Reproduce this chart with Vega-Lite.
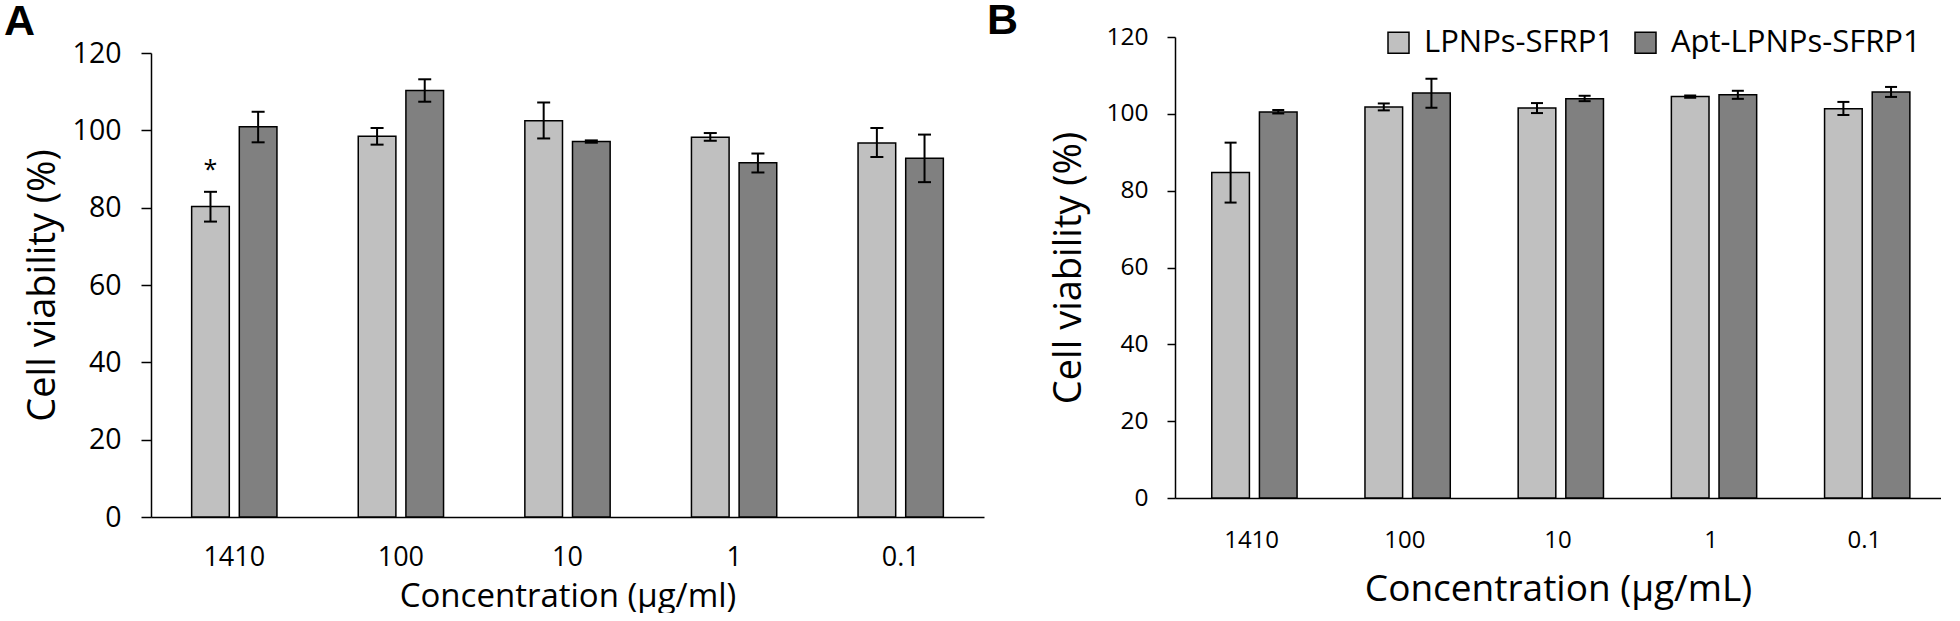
{
  "$schema": "https://vega.github.io/schema/vega-lite/v6.json",
  "padding": {"left": 4, "top": 0, "right": 0, "bottom": 0},
  "background": "white",
  "config": {
    "view": {"stroke": null},
    "font": "Open Sans",
    "axis": {"labelFont": "Open Sans", "titleFont": "Open Sans", "labelColor": "#000", "titleColor": "#000", "domainColor": "#000", "tickColor": "#000", "domainWidth": 1.5, "tickWidth": 1.5, "grid": false, "titleFontWeight": "normal"},
    "title": {"font": "Liberation Sans", "fontWeight": "bold", "fontSize": 43, "anchor": "start", "color": "#000"}
  },
  "datasets": {
    "a": [
      {"conc": "1410", "series": "LPNPs-SFRP1", "value": 80.3, "lo": 76.4, "hi": 84.1, "sig": "*"},
      {"conc": "1410", "series": "Apt-LPNPs-SFRP1", "value": 100.9, "lo": 96.9, "hi": 104.8, "sig": ""},
      {"conc": "100", "series": "LPNPs-SFRP1", "value": 98.5, "lo": 96.3, "hi": 100.6, "sig": ""},
      {"conc": "100", "series": "Apt-LPNPs-SFRP1", "value": 110.3, "lo": 107.4, "hi": 113.2, "sig": ""},
      {"conc": "10", "series": "LPNPs-SFRP1", "value": 102.5, "lo": 97.9, "hi": 107.2, "sig": ""},
      {"conc": "10", "series": "Apt-LPNPs-SFRP1", "value": 97.1, "lo": 96.8, "hi": 97.4, "sig": ""},
      {"conc": "1", "series": "LPNPs-SFRP1", "value": 98.2, "lo": 97.3, "hi": 99.3, "sig": ""},
      {"conc": "1", "series": "Apt-LPNPs-SFRP1", "value": 91.6, "lo": 89.1, "hi": 94.0, "sig": ""},
      {"conc": "0.1", "series": "LPNPs-SFRP1", "value": 96.7, "lo": 93.1, "hi": 100.6, "sig": ""},
      {"conc": "0.1", "series": "Apt-LPNPs-SFRP1", "value": 92.8, "lo": 86.6, "hi": 98.9, "sig": ""}
    ],
    "b": [
      {"conc": "1410", "series": "LPNPs-SFRP1", "value": 84.7, "lo": 76.9, "hi": 92.5},
      {"conc": "1410", "series": "Apt-LPNPs-SFRP1", "value": 100.5, "lo": 100.1, "hi": 101.0},
      {"conc": "100", "series": "LPNPs-SFRP1", "value": 101.8, "lo": 100.9, "hi": 102.7},
      {"conc": "100", "series": "Apt-LPNPs-SFRP1", "value": 105.4, "lo": 101.6, "hi": 109.1},
      {"conc": "10", "series": "LPNPs-SFRP1", "value": 101.5, "lo": 100.2, "hi": 102.8},
      {"conc": "10", "series": "Apt-LPNPs-SFRP1", "value": 103.9, "lo": 103.3, "hi": 104.7},
      {"conc": "1", "series": "LPNPs-SFRP1", "value": 104.5, "lo": 104.2, "hi": 104.8},
      {"conc": "1", "series": "Apt-LPNPs-SFRP1", "value": 105.0, "lo": 103.9, "hi": 106.0},
      {"conc": "0.1", "series": "LPNPs-SFRP1", "value": 101.3, "lo": 99.7, "hi": 103.1},
      {"conc": "0.1", "series": "Apt-LPNPs-SFRP1", "value": 105.7, "lo": 104.4, "hi": 107.0}
    ]
  },
  "spacing": 2,
  "resolve": {"scale": {"fill": "independent"}, "legend": {"fill": "independent"}},
  "hconcat": [
    {
      "title": {"text": "A", "dx": -20, "offset": -7},
      "spacing": 1,
      "vconcat": [
        {"width": 833, "height": 1, "data": {"values": []}, "mark": {"type": "point", "opacity": 0}},
        {
          "width": 833,
          "height": 464,
          "data": {"name": "a"},
          "encoding": {
            "x": {"field": "conc", "type": "nominal", "sort": ["1410", "100", "10", "1", "0.1"],
              "scale": {"paddingInner": 0.488, "paddingOuter": 0.244},
              "axis": {"title": "Concentration (µg/ml)", "labelAngle": 0, "ticks": false, "labelFontSize": 27, "labelPadding": 27, "titleFontSize": 33, "titlePadding": 10}},
            "xOffset": {"field": "series", "type": "nominal", "sort": ["LPNPs-SFRP1", "Apt-LPNPs-SFRP1"], "scale": {"paddingInner": 0.21, "paddingOuter": 0}}
          },
          "layer": [
            {
              "mark": {"type": "bar", "stroke": "#000", "strokeWidth": 1.5},
              "encoding": {
                "y": {"field": "value", "type": "quantitative", "scale": {"domain": [0, 120], "nice": false},
                  "axis": {"title": "Cell viability (%)", "values": [0, 20, 40, 60, 80, 100, 120], "tickSize": 10, "labelFontSize": 28.5, "labelPadding": 20, "titleFontSize": 38, "titlePadding": 10}},
                "fill": {"field": "series", "type": "nominal", "scale": {"domain": ["LPNPs-SFRP1", "Apt-LPNPs-SFRP1"], "range": ["#c0c0c0", "#808080"]}, "legend": null}
              }
            },
            {"mark": {"type": "rule", "strokeWidth": 2, "color": "#000"}, "encoding": {"y": {"field": "lo", "type": "quantitative"}, "y2": {"field": "hi"}}},
            {"mark": {"type": "tick", "thickness": 2, "size": 13, "color": "#000", "opacity": 1}, "encoding": {"y": {"field": "lo", "type": "quantitative"}}},
            {"mark": {"type": "tick", "thickness": 2, "size": 13, "color": "#000", "opacity": 1}, "encoding": {"y": {"field": "hi", "type": "quantitative"}}},
            {
              "transform": [{"filter": {"field": "sig", "equal": "*"}}],
              "mark": {"type": "text", "dy": -14, "fontSize": 25, "baseline": "alphabetic", "color": "#000"},
              "encoding": {"y": {"field": "hi", "type": "quantitative"}, "text": {"field": "sig"}}
            }
          ]
        }
      ]
    },
    {
      "width": 766,
      "height": 461,
      "title": {"text": "B", "dx": -64, "offset": -19},
      "data": {"name": "b"},
      "encoding": {
        "x": {"field": "conc", "type": "nominal", "sort": ["1410", "100", "10", "1", "0.1"],
          "scale": {"paddingInner": 0.48, "paddingOuter": 0.24},
          "axis": {"title": "Concentration (µg/mL)", "labelAngle": 0, "ticks": false, "labelFontSize": 24, "labelPadding": 30, "titleFontSize": 37, "titlePadding": 19}},
        "xOffset": {"field": "series", "type": "nominal", "sort": ["LPNPs-SFRP1", "Apt-LPNPs-SFRP1"], "scale": {"paddingInner": 0.21, "paddingOuter": 0}}
      },
      "layer": [
        {
          "mark": {"type": "bar", "stroke": "#000", "strokeWidth": 1.5},
          "encoding": {
            "y": {"field": "value", "type": "quantitative", "scale": {"domain": [0, 120], "nice": false},
              "axis": {"title": "Cell viability (%)", "values": [0, 20, 40, 60, 80, 100, 120], "tickSize": 8, "labelFontSize": 24.5, "labelPadding": 19, "titleFontSize": 38, "titlePadding": 17}},
            "fill": {"field": "series", "type": "nominal", "sort": ["LPNPs-SFRP1", "Apt-LPNPs-SFRP1"], "scale": {"domain": ["LPNPs-SFRP1", "Apt-LPNPs-SFRP1"], "range": ["#c0c0c0", "#808080"]},
              "legend": {"orient": "none", "legendX": 208, "legendY": -10, "direction": "horizontal", "title": null, "labelFont": "Open Sans", "labelFontSize": 31, "labelColor": "#000", "labelLimit": 400, "symbolType": "square", "symbolSize": 441, "symbolStrokeColor": "#000", "symbolStrokeWidth": 1.5, "symbolOpacity": 1, "columnPadding": 15, "labelOffset": 10, "padding": 0}}
          }
        },
        {"mark": {"type": "rule", "strokeWidth": 2, "color": "#000"}, "encoding": {"y": {"field": "lo", "type": "quantitative"}, "y2": {"field": "hi"}}},
        {"mark": {"type": "tick", "thickness": 2, "size": 12, "color": "#000", "opacity": 1}, "encoding": {"y": {"field": "lo", "type": "quantitative"}}},
        {"mark": {"type": "tick", "thickness": 2, "size": 12, "color": "#000", "opacity": 1}, "encoding": {"y": {"field": "hi", "type": "quantitative"}}}
      ]
    }
  ]
}
